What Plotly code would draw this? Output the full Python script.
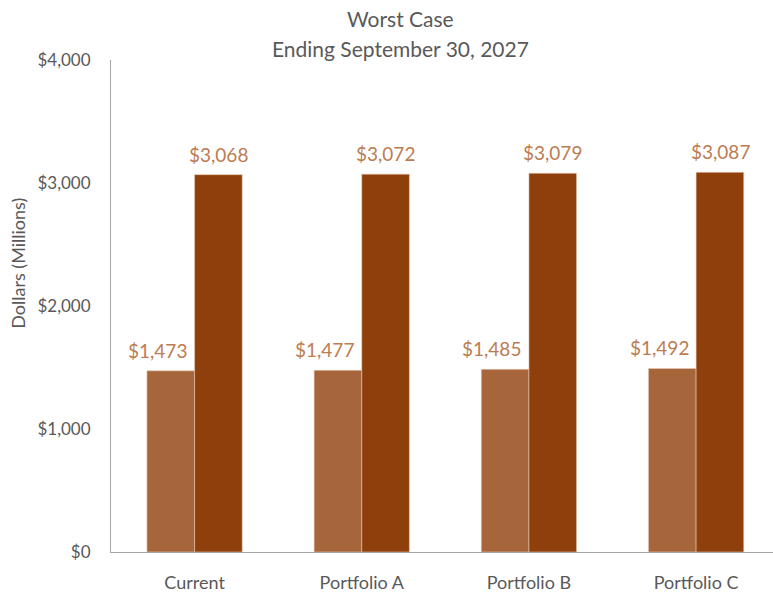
import plotly.graph_objects as go

categories = ["Current", "Portfolio A", "Portfolio B", "Portfolio C"]
series_1 = [1473, 1477, 1485, 1492]
series_2 = [3068, 3072, 3079, 3087]
y_ticks = [0, 1000, 2000, 3000, 4000]
y_tick_labels = ["$0", "$1,000", "$2,000", "$3,000", "$4,000"]

FONT = "Lato"
GRAY = "#595959"
LIGHT = "#A6653B"
DARK = "#8E3F0B"
LABEL = "#BC7C52"

# plot area in pixels
PL, PR, PT, PB = 111, 773, 60, 555
def px(x):
    return (x - PL) / (PR - PL)
def py(y):
    return (PB - y) / (PB - PT)

fig = go.Figure()
fig.add_trace(go.Bar(x=categories, y=series_1, name="Series 1",
                     marker=dict(color=LIGHT, line=dict(color="#E6C9B5", width=0.6))))
fig.add_trace(go.Bar(x=categories, y=series_2, name="Series 2",
                     marker=dict(color=DARK, line=dict(color="#E6C9B5", width=0.6))))

annotations = []
for i, c in enumerate(categories):
    for vals, shift in ((series_1, -37), (series_2, 24)):
        annotations.append(dict(
            x=c, y=vals[i], xref="x", yref="y", text=f"${vals[i]:,}",
            showarrow=False, xshift=shift, yshift=7, yanchor="bottom",
            font=dict(family=FONT, size=19, color=LABEL)))

annotations.append(dict(x=px(400), y=py(18), xref="paper", yref="paper",
                        text="Worst Case", showarrow=False, xanchor="center", yanchor="middle",
                        font=dict(family=FONT, size=21, color=GRAY)))
annotations.append(dict(x=px(400), y=py(48), xref="paper", yref="paper",
                        text="Ending September 30, 2027", showarrow=False, xanchor="center", yanchor="middle",
                        font=dict(family=FONT, size=21, color=GRAY)))
annotations.append(dict(x=px(18), y=py(265), xref="paper", yref="paper",
                        text="Dollars (Millions)", showarrow=False, textangle=-90,
                        xanchor="center", yanchor="middle",
                        font=dict(family=FONT, size=18, color=GRAY)))

fig.update_layout(
    width=773, height=593,
    margin=dict(l=PL, r=773 - PR, t=PT, b=593 - PB),
    paper_bgcolor="white", plot_bgcolor="white",
    showlegend=False,
    barmode="group", bargap=0.43, bargroupgap=0,
    annotations=annotations,
    font=dict(family=FONT, color=GRAY),
)
fig.update_xaxes(range=[-0.5, 3.46], showline=True, linecolor="#A6A6A6", linewidth=1,
                 showgrid=False, ticks="", tickfont=dict(family=FONT, size=18, color=GRAY),
                 ticklabelstandoff=14)
fig.update_yaxes(range=[0, 4000], tickvals=y_ticks, ticktext=y_tick_labels,
                 showline=True, linecolor="#A6A6A6", linewidth=1, showgrid=False,
                 zeroline=False, ticks="", tickfont=dict(family=FONT, size=17, color=GRAY),
                 ticklabelstandoff=16)

fig.write_html("out.html")
